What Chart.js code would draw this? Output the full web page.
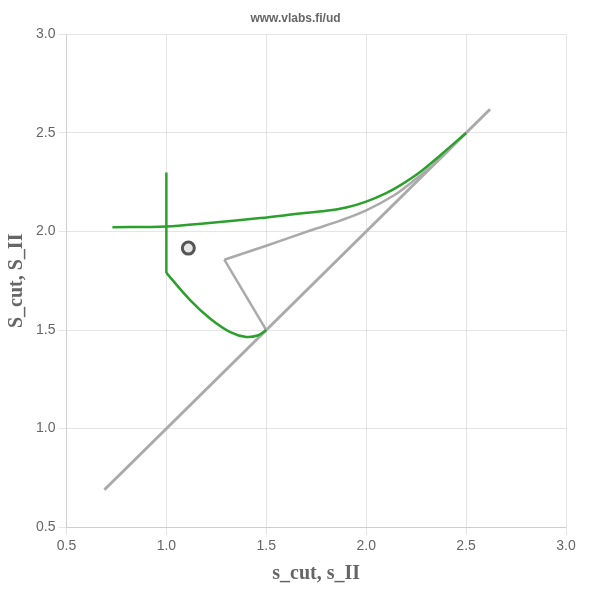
<!DOCTYPE html>
<html>
<head>
<meta charset="utf-8">
<script src="https://cdn.jsdelivr.net/npm/chart.js@4"></script>
<style>
	html, body { margin: 0; padding: 0; background: #fff; }
	#box { width: 590px; height: 590px; }
</style>
</head>
<body>
<div id="box"><canvas id="chart"></canvas></div>
<script>
// diagonal s = S
var diagX = [0.69, 2.62];
var diagY = [0.69, 2.62];

// grey polyline (jump + curve)
var greyJumpX = [1.5, 1.29];
var greyJumpY = [1.5, 1.857];
var greyCurveX = [1.29, 1.5, 1.72, 1.87, 2.0, 2.14, 2.24, 2.34, 2.42];
var greyCurveY = [1.857, 1.928, 2.005, 2.055, 2.107, 2.184, 2.26, 2.342, 2.42];

// green curves
var upperX = [0.73, 1.0, 1.2, 1.47, 1.67, 1.8, 1.9, 2.0, 2.1, 2.17, 2.27, 2.37, 2.5];
var upperY = [2.022, 2.025, 2.042, 2.068, 2.091, 2.105, 2.122, 2.152, 2.195, 2.234, 2.302, 2.386, 2.5];
var vertX = [1.0, 1.0];
var vertY = [2.30, 1.79];
var lowerX = [1.0, 1.12, 1.22, 1.32, 1.40, 1.46, 1.5];
var lowerY = [1.79, 1.651, 1.558, 1.49, 1.465, 1.474, 1.5];

// state point
var pointX = [1.11];
var pointY = [1.916];

var axisTicks = [0.5, 1.0, 1.5, 2.0, 2.5, 3.0];

function toPoints(xs, ys) {
	var pts = [];
	for (var i = 0; i < xs.length; i++) {
		pts.push({x: xs[i], y: ys[i]});
	}
	return pts;
}

function line(xs, ys, color, width, smooth) {
	return {
		data: toPoints(xs, ys),
		showLine: true,
		borderColor: color,
		borderWidth: width,
		pointRadius: 0,
		fill: false,
		tension: smooth ? 0.35 : 0
	};
}

var green = '#2ca02c';
var grey = '#aaaaaa';

var datasets = [
	{
		data: toPoints(pointX, pointY),
		pointRadius: 6,
		pointBorderWidth: 3,
		pointBackgroundColor: '#e6e6e6',
		pointBorderColor: '#555555'
	},
	line(upperX, upperY, green, 2.5, true),
	line(vertX, vertY, green, 2.5, false),
	line(lowerX, lowerY, green, 2.5, true),
	line(greyJumpX, greyJumpY, grey, 2.5, false),
	line(greyCurveX, greyCurveY, grey, 2.5, true),
	line(diagX, diagY, grey, 3, false)
];

function axis(title) {
	return {
		type: 'linear',
		min: 0.5,
		max: 3.0,
		afterBuildTicks: function(scale) {
			scale.ticks = axisTicks.map(function(v) { return {value: v}; });
		},
		ticks: {
			color: '#666',
			font: {family: 'Liberation Sans', size: 14},
			callback: function(v) { return v.toFixed(1); }
		},
		grid: {color: 'rgba(0,0,0,0.1)'},
		title: {
			display: true,
			text: title,
			color: '#666',
			font: {family: 'Liberation Serif', size: 20, weight: 'bold'}
		}
	};
}

new Chart(document.getElementById('chart'), {
	type: 'scatter',
	data: {datasets: datasets},
	options: {
		responsive: true,
		maintainAspectRatio: false,
		animation: false,
		layout: {padding: {left: 1, right: 0, top: 4, bottom: 0}},
		plugins: {
			legend: {display: false},
			tooltip: {enabled: false},
			title: {
				display: true,
				text: 'www.vlabs.fi/ud',
				color: '#666',
				font: {family: 'Liberation Sans', size: 12, weight: 'bold'},
				padding: {top: 7, bottom: 9}
			}
		},
		scales: {
			x: axis('s_cut, s_II'),
			y: axis('S_cut, S_II'),
			// empty right axis, only keeps space on the right side
			yRight: {
				position: 'right',
				min: 0.5,
				max: 3.0,
				grid: {display: false, drawTicks: false},
				border: {display: false},
				ticks: {display: false},
				afterFit: function(scale) { scale.width = 24; }
			}
		}
	}
});
</script>
</body>
</html>
